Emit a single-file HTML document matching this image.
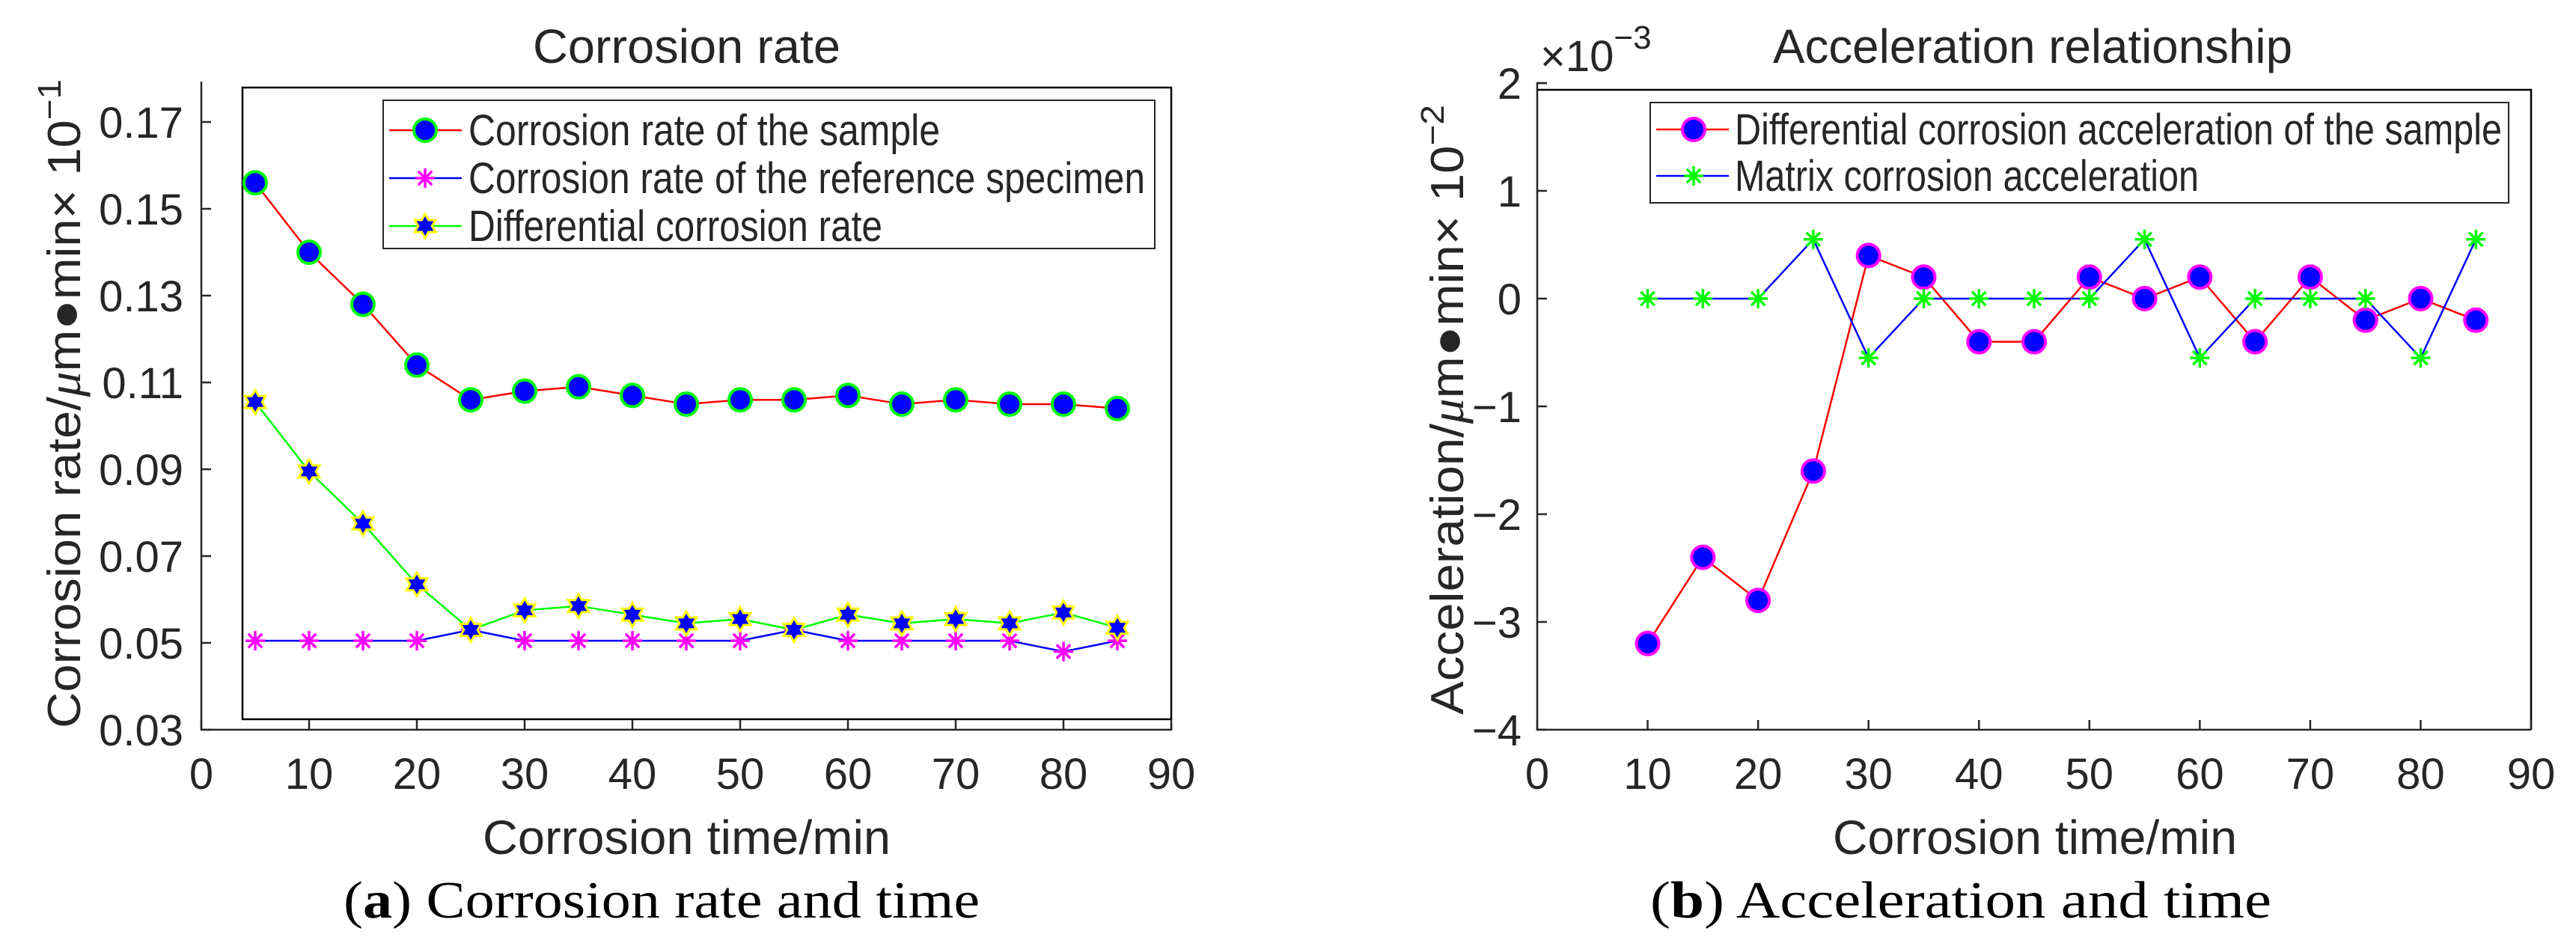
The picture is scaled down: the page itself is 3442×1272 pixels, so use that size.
<!DOCTYPE html>
<html><head><meta charset="utf-8"><style>
html,body{margin:0;padding:0;background:#fff}
svg{display:block}
text{font-family:"Liberation Sans",sans-serif;fill:#262626}
.cap{font-family:"Liberation Serif",serif;fill:#000}
</style></head><body>
<svg id="fig" width="3442" height="1272" viewBox="0 0 3442 1272" xmlns="http://www.w3.org/2000/svg">
<g id="chartA"></g>
<g id="chartB"></g>
<text class="cap" x="459" y="1226" font-size="70" textLength="850" lengthAdjust="spacingAndGlyphs">(<tspan font-weight="bold">a</tspan>) Corrosion rate and time</text>
<text class="cap" x="2205" y="1226" font-size="70" textLength="830" lengthAdjust="spacingAndGlyphs">(<tspan font-weight="bold">b</tspan>) Acceleration and time</text>
</svg>
<script>
// ---- Chart A data ----
const timesA = [5,10,15,20,25,30,35,40,45,50,55,60,65,70,75,80,85];
const sampleRate = [0.156,0.140,0.128,0.114,0.106,0.108,0.109,0.107,0.105,0.106,0.106,0.107,0.105,0.106,0.105,0.105,0.104];
const referenceRate = [0.0505,0.0505,0.0505,0.0505,0.053,0.0505,0.0505,0.0505,0.0505,0.0505,0.053,0.0505,0.0505,0.0505,0.0505,0.048,0.0505];
const diffRate = [0.1055,0.0895,0.0775,0.0635,0.053,0.0575,0.0585,0.0565,0.0545,0.0555,0.053,0.0565,0.0545,0.0555,0.0545,0.057,0.0535];
const xTicks = [0,10,20,30,40,50,60,70,80,90];
const yTicksA = [0.03,0.05,0.07,0.09,0.11,0.13,0.15,0.17];
const yTickLabelsA = ["0.03","0.05","0.07","0.09","0.11","0.13","0.15","0.17"];
// ---- Chart B data ----
const timesB = [10,15,20,25,30,35,40,45,50,55,60,65,70,75,80,85];
const diffAccel = [-3.2,-2.4,-2.8,-1.6,0.4,0.2,-0.4,-0.4,0.2,0,0.2,-0.4,0.2,-0.2,0,-0.2];
const matrixAccel = [0,0,0,0.55,-0.55,0,0,0,0,0.55,-0.55,0,0,0,-0.55,0.55];
const yTicksB = [-4,-3,-2,-1,0,1,2];
const yTickLabelsB = ["\u22124","\u22123","\u22122","\u22121","0","1","2"];

const NS="http://www.w3.org/2000/svg";
function mk(parent,tag,attrs,txt){const e=document.createElementNS(NS,tag);for(const k in attrs)e.setAttribute(k,attrs[k]);if(txt!==undefined)e.textContent=txt;parent.appendChild(e);return e;}

function circleMarker(g,x,y,fill,edge){
  const c=mk(g,'circle',{cx:x,cy:y,r:15,fill:fill,stroke:edge,'stroke-width':4});
  
  
  return c;
}
function asterisk(g,x,y,color){
  const s=13,d=s*0.707;
  const p=mk(g,'path',{d:`M${x-s} ${y}H${x+s}M${x} ${y-s}V${y+s}M${x-d} ${y-d}L${x+d} ${y+d}M${x-d} ${y+d}L${x+d} ${y-d}`,stroke:color,'stroke-width':3.5,fill:'none'});
  
  
  return p;
}
function hexagram(g,x,y){
  const R=16,r=9.2;let pts=[];
  for(let i=0;i<12;i++){const a=-Math.PI/2+i*Math.PI/6;const rr=i%2?r:R;pts.push((x+rr*Math.cos(a)).toFixed(1)+','+(y+rr*Math.sin(a)).toFixed(1));}
  const p=mk(g,'polygon',{points:pts.join(' '),fill:'#0000ff',stroke:'#ffff00','stroke-width':3});
  
  
  return p;
}

// ================= Chart A =================
(function(){
  const g=document.getElementById('chartA');
  const x0=269,x1=1565,yb=975,yt=163;
  const xs=v=>x0+(v-0)/90*(x1-x0);
  const ys=v=>yb-(v-0.03)/(0.14)*(yb-yt);
  const fr=mk(g,'rect',{x:324,y:117,width:1565-324,height:961-117,fill:'none',stroke:'#000','stroke-width':2.5});
  
  
  const ax=mk(g,'path',{d:`M${x0} 109V${yb}H${x1}V${yb-8}`,fill:'none',stroke:'#262626','stroke-width':2.5});
  
  
  xTicks.forEach(t=>{
    mk(g,'line',{x1:xs(t),x2:xs(t),y1:yb,y2:yb-13,stroke:'#262626','stroke-width':2.5});
    const l=mk(g,'text',{x:xs(t),y:1054,'font-size':58,'text-anchor':'middle'},String(t));
    
    
  });
  yTicksA.forEach((t,i)=>{
    mk(g,'line',{x1:x0,x2:x0+13,y1:ys(t),y2:ys(t),stroke:'#262626','stroke-width':2.5});
    const l=mk(g,'text',{x:245,y:ys(t)+21,'font-size':58,'text-anchor':'end'},yTickLabelsA[i]);
    
    
  });
  const t=mk(g,'text',{x:712,y:84,'font-size':64,textLength:411,lengthAdjust:'spacingAndGlyphs'},'Corrosion rate');
  
  
  const xl=mk(g,'text',{x:645,y:1141,'font-size':64,textLength:545,lengthAdjust:'spacingAndGlyphs'},'Corrosion time/min');
  
  
  const yl=mk(g,'text',{x:0,y:0,'font-size':62,transform:'translate(107,973) rotate(-90)',textLength:867,lengthAdjust:'spacingAndGlyphs'});
  yl.innerHTML='Corrosion rate/<tspan font-family="Liberation Serif" font-style="italic">\u03bc</tspan>m\u25cfmin\u00d7 10<tspan dy="-26" font-size="44">\u22121</tspan>';
  
  
  const line=(vals,color)=>{const p=mk(g,'polyline',{points:timesA.map((x,i)=>xs(x)+','+ys(vals[i])).join(' '),fill:'none',stroke:color,'stroke-width':2.5});};
  line(sampleRate,'#ff0000'); line(referenceRate,'#0000ff'); line(diffRate,'#00ff00');
  timesA.forEach((x,i)=>circleMarker(g,xs(x),ys(sampleRate[i]),'#0000ff','#00ff00'));
  timesA.forEach((x,i)=>asterisk(g,xs(x),ys(referenceRate[i]),'#ff00ff'));
  timesA.forEach((x,i)=>hexagram(g,xs(x),ys(diffRate[i])));
  const lg=mk(g,'g',{});
  
  
  mk(lg,'rect',{x:512,y:134,width:1031,height:198,fill:'#fff',stroke:'#262626','stroke-width':2});
  const labels=['Corrosion rate of the sample','Corrosion rate of the reference specimen','Differential corrosion rate'];
  const widths=[630,904,553];const cols=['#ff0000','#0000ff','#00ff00'];
  labels.forEach((s,i)=>{const y=174+i*64;
    mk(lg,'line',{x1:520,x2:617,y1:y,y2:y,stroke:cols[i],'stroke-width':2.5});
    if(i===0)circleMarker(lg,568,y,'#0000ff','#00ff00');else if(i===1)asterisk(lg,568,y,'#ff00ff');else hexagram(lg,568,y);
    const e=mk(lg,'text',{x:626,y:y+20,'font-size':58,textLength:widths[i],lengthAdjust:'spacingAndGlyphs',fill:'#000'},s);
    
    
  });
})();

// ================= Chart B =================
(function(){
  const g=document.getElementById('chartB');
  const x0=2054,x1=3382,yb=975,yt=111;
  const xs=v=>x0+v/90*(x1-x0);
  const ys=v=>yb-(v+4)/6*(yb-yt);
  const fr=mk(g,'path',{d:`M${x0} 120H${x1}V${yb}`,fill:'none',stroke:'#000','stroke-width':2.5});
  
  
  const ax=mk(g,'path',{d:`M${x0+13} ${yt}H${x0}V${yb}H${x1}`,fill:'none',stroke:'#262626','stroke-width':2.5});
  
  
  xTicks.forEach(t=>{
    mk(g,'line',{x1:xs(t),x2:xs(t),y1:yb,y2:yb-13,stroke:'#262626','stroke-width':2.5});
    const l=mk(g,'text',{x:xs(t),y:1054,'font-size':58,'text-anchor':'middle'},String(t));
    
    
  });
  yTicksB.forEach((t,i)=>{
    mk(g,'line',{x1:x0,x2:x0+13,y1:ys(t),y2:ys(t),stroke:'#262626','stroke-width':2.5});
    const l=mk(g,'text',{x:2033,y:ys(t)+21,'font-size':58,'text-anchor':'end'},yTickLabelsB[i]);
    
    
  });
  const ex=mk(g,'text',{x:2058,y:95,'font-size':58});
  ex.innerHTML='\u00d710<tspan dy="-30" font-size="44">\u22123</tspan>';
  
  
  const t=mk(g,'text',{x:2369,y:84,'font-size':64,textLength:694,lengthAdjust:'spacingAndGlyphs'},'Acceleration relationship');
  
  
  const xl=mk(g,'text',{x:2449,y:1141,'font-size':64,textLength:540,lengthAdjust:'spacingAndGlyphs'},'Corrosion time/min');
  
  
  const yl=mk(g,'text',{x:0,y:0,'font-size':62,transform:'translate(1955,955) rotate(-90)',textLength:815,lengthAdjust:'spacingAndGlyphs'});
  yl.innerHTML='Acceleration/<tspan font-family="Liberation Serif" font-style="italic">\u03bc</tspan>m\u25cfmin\u00d7 10<tspan dy="-26" font-size="44">\u22122</tspan>';
  
  
  const line=(vals,color)=>{const p=mk(g,'polyline',{points:timesB.map((x,i)=>xs(x)+','+ys(vals[i])).join(' '),fill:'none',stroke:color,'stroke-width':2.5});};
  line(diffAccel,'#ff0000'); line(matrixAccel,'#0000ff');
  timesB.forEach((x,i)=>circleMarker(g,xs(x),ys(diffAccel[i]),'#0000ff','#ff00ff'));
  timesB.forEach((x,i)=>asterisk(g,xs(x),ys(matrixAccel[i]),'#00ff00'));
  const lg=mk(g,'g',{});
  
  
  mk(lg,'rect',{x:2205,y:137,width:1147,height:134,fill:'#fff',stroke:'#262626','stroke-width':2});
  const labels=['Differential corrosion acceleration of the sample','Matrix corrosion acceleration'];
  const widths=[1025,620];const cols=['#ff0000','#0000ff'];
  labels.forEach((s,i)=>{const y=173+i*62;
    mk(lg,'line',{x1:2213,x2:2310,y1:y,y2:y,stroke:cols[i],'stroke-width':2.5});
    if(i===0)circleMarker(lg,2263,y,'#0000ff','#ff00ff');else asterisk(lg,2263,y,'#00ff00');
    const e=mk(lg,'text',{x:2318,y:y+20,'font-size':58,textLength:widths[i],lengthAdjust:'spacingAndGlyphs',fill:'#000'},s);
    
    
  });
})();
</script>
</body></html>
